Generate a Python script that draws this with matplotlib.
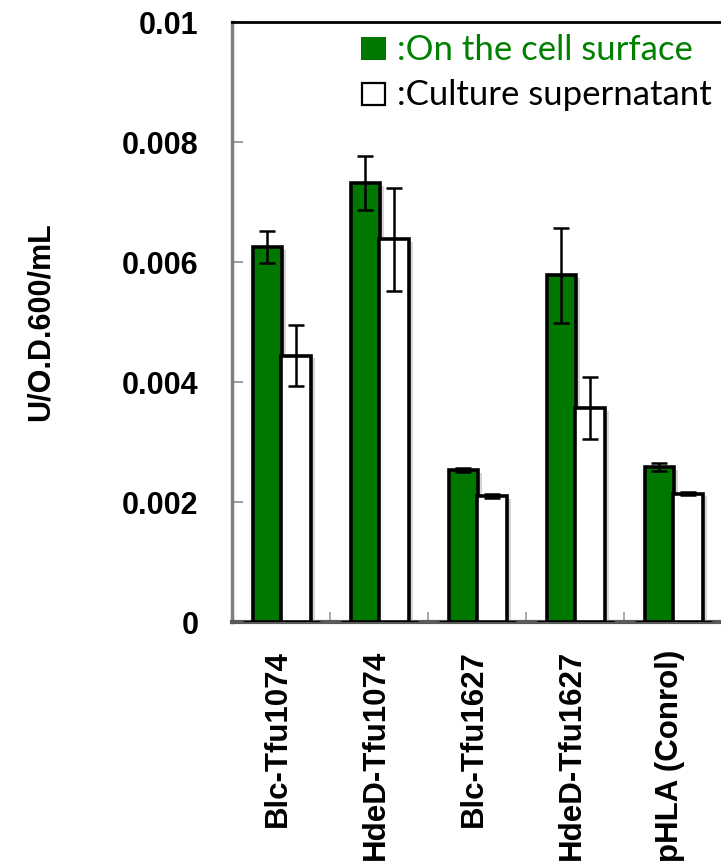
import matplotlib
matplotlib.use("Agg")
import matplotlib.pyplot as plt
import matplotlib.patheffects as pe
from matplotlib.patches import Rectangle
import numpy as np

# Samples and measured activities (U/O.D.600/mL)
categories = ["Blc-Tfu1074", "HdeD-Tfu1074", "Blc-Tfu1627", "HdeD-Tfu1627", "pHLA (Conrol)"]
surface_vals = [0.00625, 0.00732, 0.00253, 0.00578, 0.00258]
surface_err = [0.00026, 0.00045, 0.00003, 0.00079, 0.00007]
supernatant_vals = [0.00444, 0.00638, 0.00210, 0.00357, 0.00214]
supernatant_err = [0.00051, 0.00086, 0.00003, 0.00052, 0.00003]
yticks = [0, 0.002, 0.004, 0.006, 0.008, 0.01]
ytick_labels = ["0", "0.002", "0.004", "0.006", "0.008", "0.01"]

GREEN = "#007800"
W, H = 721, 867
fig = plt.figure(figsize=(W / 100, H / 100), dpi=100)
ax = fig.add_axes([232 / W, 1 - 622 / H, 490 / W, 600 / H])

x = np.arange(len(categories))
bw = 0.30
shadow = [pe.SimplePatchShadow(offset=(3, -2), shadow_rgbFace="0.55", alpha=0.35), pe.Normal()]

ax.bar(x - 0.14, surface_vals, bw, color=GREEN, edgecolor="black", linewidth=2.6,
       zorder=3, path_effects=shadow)
ax.bar(x + 0.155, supernatant_vals, bw, color="white", edgecolor="black", linewidth=2.6,
       zorder=3, path_effects=shadow)

ax.errorbar(x - 0.14, surface_vals, yerr=surface_err, fmt="none", ecolor="black",
            elinewidth=1.8, capsize=6, capthick=1.8, zorder=5)
ax.errorbar(x + 0.155, supernatant_vals, yerr=supernatant_err, fmt="none", ecolor="black",
            elinewidth=1.8, capsize=6, capthick=1.8, zorder=5)

# baseline segment under each group
ax.hlines([0] * len(x), x - 0.39, x + 0.4, colors="black", linewidth=2.2, zorder=4)

ax.set_xlim(-0.5, 4.5)
ax.set_ylim(0, 0.01)

ax.set_yticks(yticks)
ax.set_yticklabels(ytick_labels, fontsize=22, fontweight="bold", family="Liberation Sans")
ax.tick_params(axis="y", direction="in", length=8, width=1.2, color="0.55", pad=24)

ax.set_xticks(x - 0.03)
ax.set_xticklabels(categories, rotation=90, fontsize=22.5, fontweight="bold",
                   family="Liberation Sans", va="top", ha="center")
ax.tick_params(axis="x", which="major", length=0, pad=20)
ax.set_xticks(x[:-1] + 0.5, minor=True)
ax.tick_params(axis="x", which="minor", direction="in", length=7, width=1.2, color="0.6")

ax.set_ylabel("U/O.D.600/mL", fontsize=22, fontweight="bold", family="Liberation Sans")
ax.yaxis.set_label_coords(-0.36, 0.5)

ax.spines["left"].set_color("0.5")
ax.spines["left"].set_linewidth(2.5)
ax.spines["bottom"].set_color("0.35")
ax.spines["bottom"].set_linewidth(3)
ax.spines["top"].set_color("black")
ax.spines["top"].set_linewidth(2)
ax.spines["right"].set_visible(False)

# legend drawn as squares with text
fig.patches.append(Rectangle((361 / W, 1 - 60 / H), 25 / W, 23 / H, transform=fig.transFigure,
                             facecolor=GREEN, edgecolor="none"))
fig.patches.append(Rectangle((362 / W, 1 - 105 / H), 23 / W, 22 / H, transform=fig.transFigure,
                             facecolor="white", edgecolor="black", linewidth=1.6))
fig.text(397 / W, 1 - 50 / H, ":On the cell surface", color="#008000", fontsize=25,
         family="Lato", va="center", ha="left")
fig.text(397 / W, 1 - 95 / H, ":Culture supernatant", color="black", fontsize=25,
         family="Lato", va="center", ha="left")

fig.savefig("out.png", dpi=100)
